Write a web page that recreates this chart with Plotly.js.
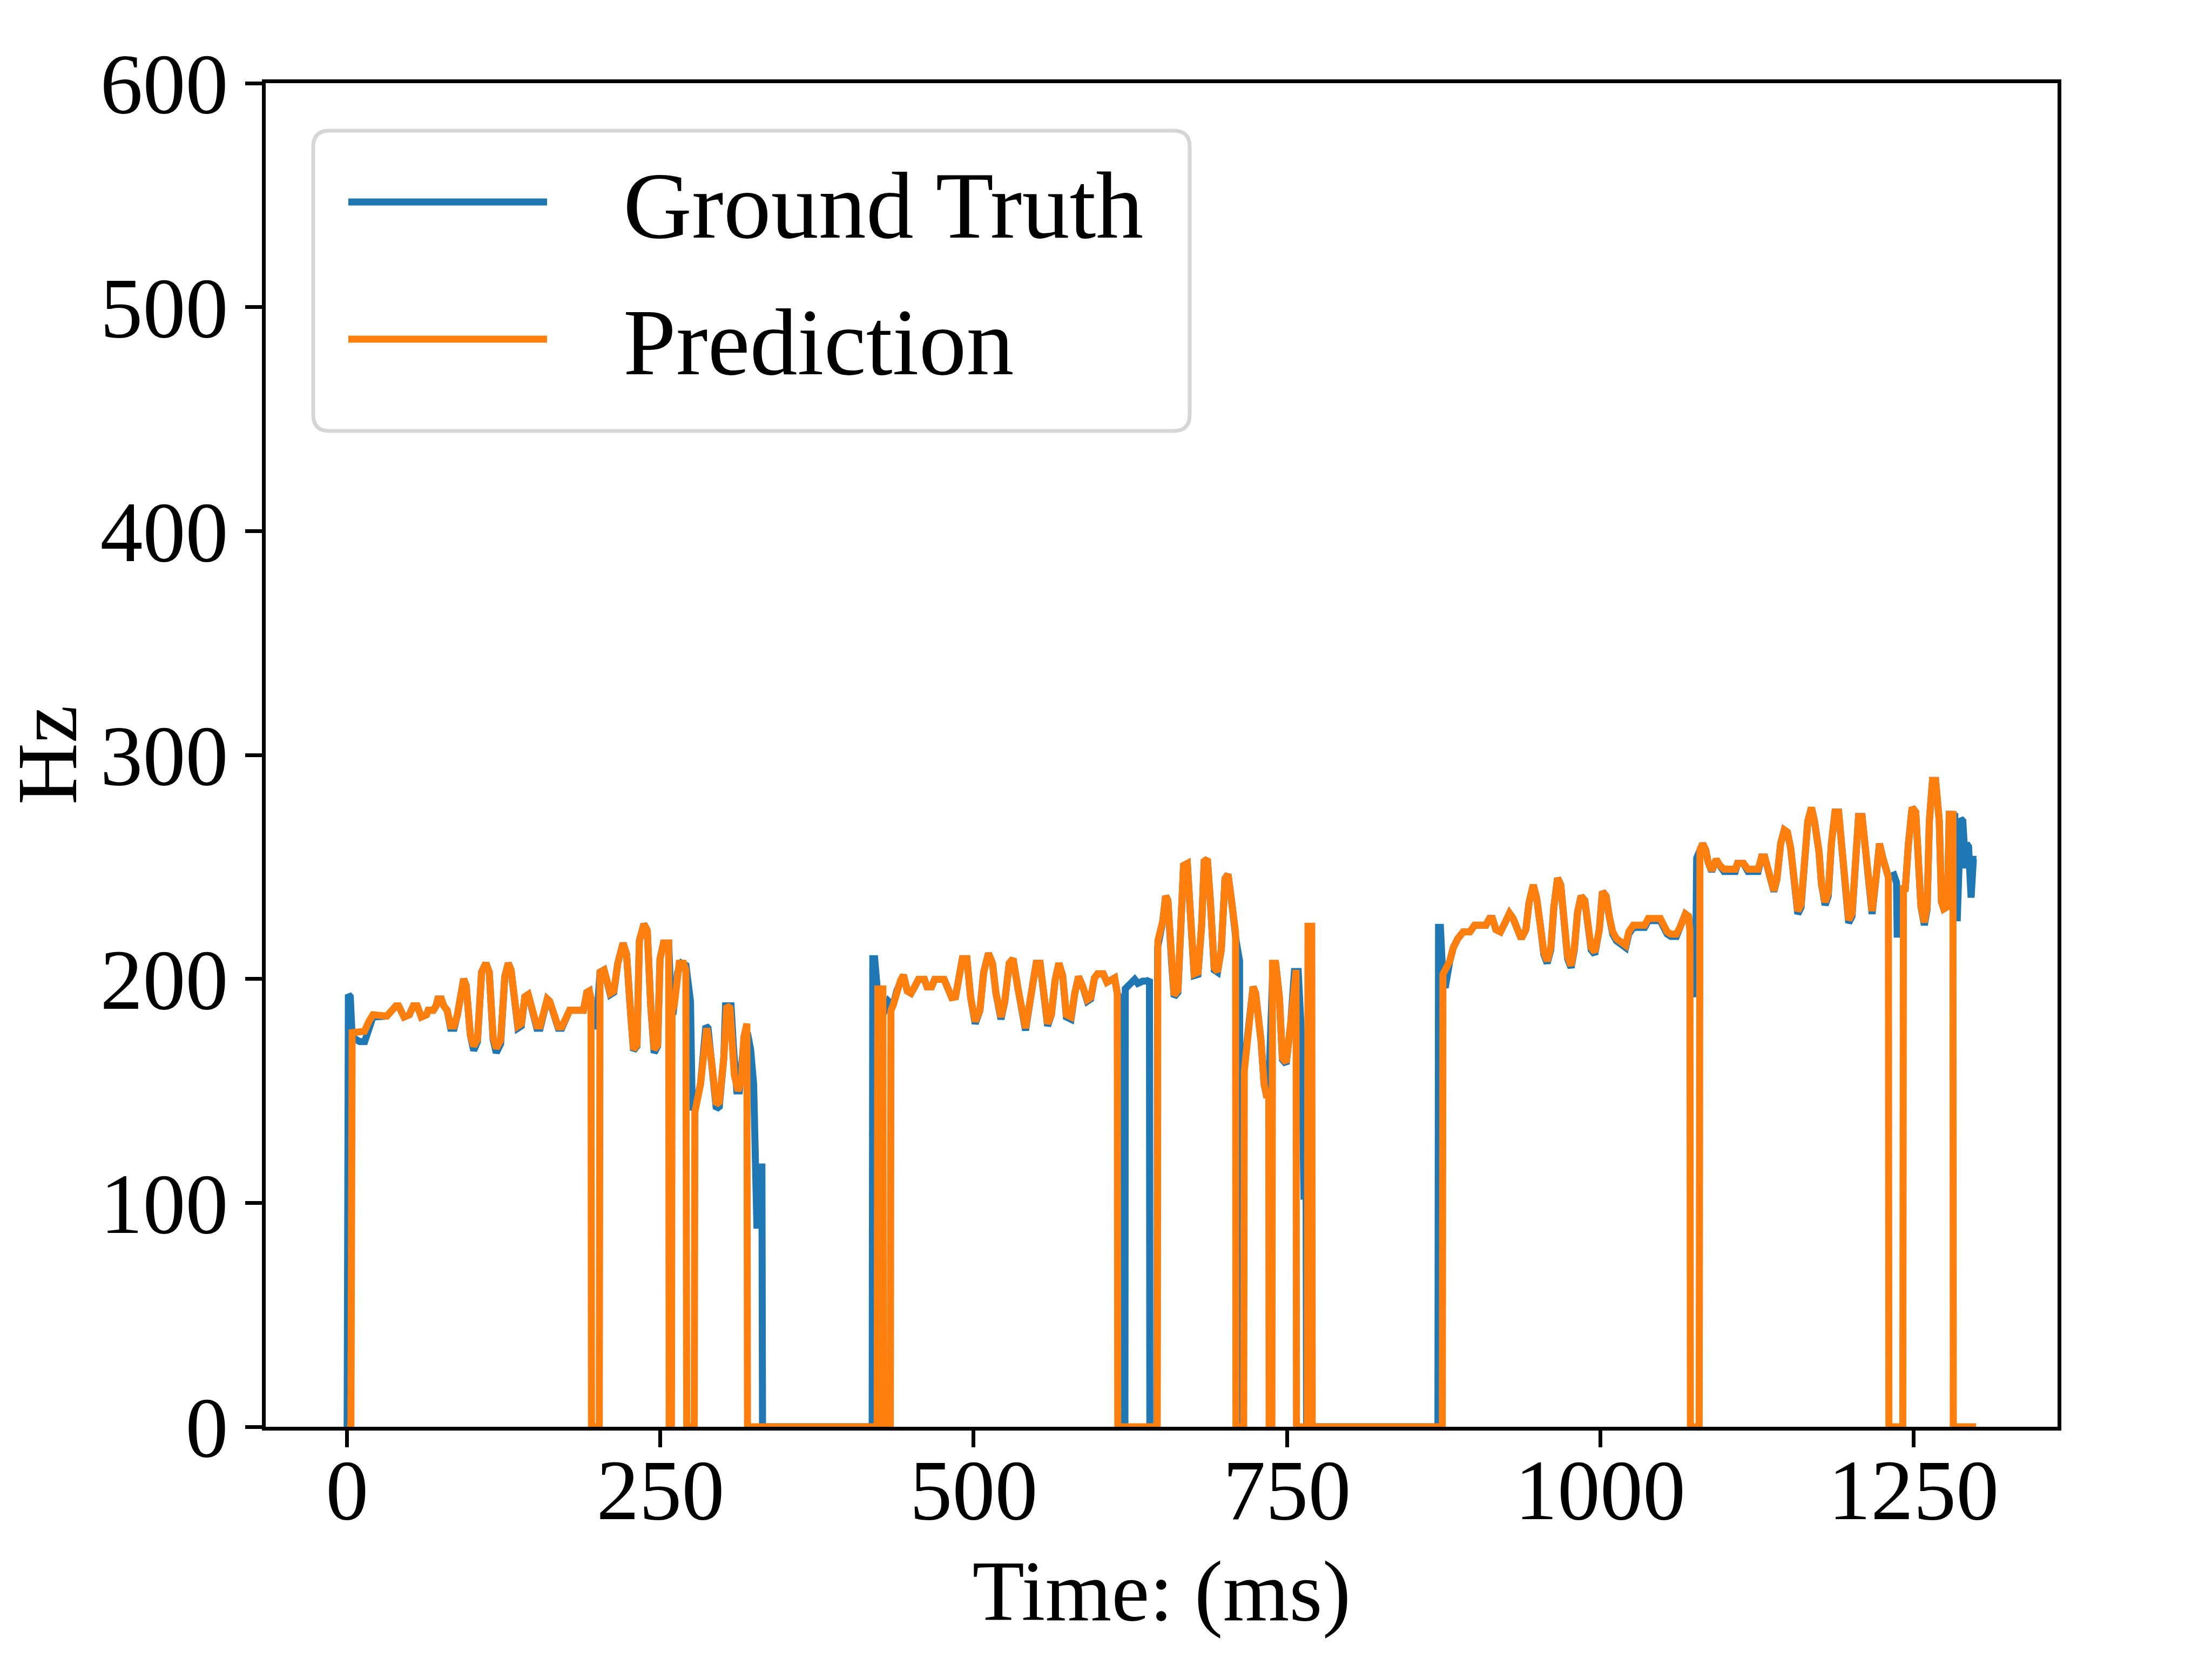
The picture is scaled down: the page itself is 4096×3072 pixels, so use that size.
<!DOCTYPE html>
<html>
<head>
<meta charset="utf-8">
<script src="https://cdn.plot.ly/plotly-3.0.1.min.js"></script>
<style>html,body{margin:0;padding:0;background:#fff;}</style>
</head>
<body>
<div id="chart" style="width:4096px;height:3072px;"></div>
<script>
// [time (ms), pitch (Hz)] vertices
const groundTruth = [
[0,0],[1,193],[2.5,192],[4,174],[10,172],[14,172],[17,177],[20.6,183],[31.7,183.4],[35.8,186],[39,188],[41,188],[45.4,183],[49.6,184],[52.9,188],[55.9,188],[59.2,183],[63.3,184],[64.7,186],[68.8,186],[71,188],[72.4,191],[75.2,191],[77,188],[79.8,186],[82.6,178],[85.4,178],[88,184],[90.8,195.5],[93,200],[95,197],[98.3,175],[101,168],[104,172],[107.3,203],[110.7,207],[113.4,203],[116.5,173],[119,167],[122.5,171],[125.8,201],[128.6,207],[130.8,204],[134,186],[136.3,178],[139,179],[141.8,192],[144.5,193],[147.9,186],[151.4,178],[154,178],[157.8,188],[159.7,191],[161.6,190],[165.2,183],[168.5,178],[171.3,178],[174.3,182.4],[177.6,186],[188.6,186],[191.3,194],[193.2,194.6],[195,186],[197,178],[199,180],[201.8,203],[205,204],[207.3,199.4],[210,193],[212.8,194],[216,207],[220.2,216],[223,211],[225.8,188],[228.5,168],[231.3,170],[233.2,217],[236.8,224.5],[239.5,221.6],[242.3,188],[245,167],[247.8,170],[249.7,209],[252.5,216],[256.6,216],[258.3,191.7],[260,184],[263.8,203],[267,207],[270.4,206],[274,190],[275.4,141.5],[278,143],[282,153],[286.3,179],[288,178],[291,160.8],[294.6,142],[297,143],[300.6,164.7],[302,188],[306.4,188],[308.4,168.5],[311,150],[313,150],[316.6,172],[319.4,176],[322,168.5],[324.4,153],[325.7,120],[326.5,116],[327,90],[328.5,90],[329,116],[331,116],[331.5,0],
[419,0],[419.5,209],[421,209],[423,196],[426,187],[429,186],[432,190],[435.6,188],[438.6,194.6],[441.7,199.4],[444,201.7],[447,194.6],[450,193.6],[453,196.5],[456,199.8],[460.7,199.8],[462.8,196.5],[466.4,196.5],[468.9,199.8],[476.4,199.8],[479.4,195.6],[482.5,191.7],[485.5,192],[488.5,201],[491,209],[494.6,209],[497.6,191.7],[501.2,180],[505,186],[508,203],[511.8,211.4],[515,207],[517.8,193.6],[521.8,182],[524.8,189.8],[528.4,207],[531.4,209],[535.4,195.6],[538.4,188],[541.4,177],[546,193.6],[549.9,207],[553,207],[555.9,195.6],[559,179],[562,184],[565,199.4],[568,207],[571,201.5],[574,183],[577.7,182],[580.7,193.6],[583.7,201],[586.8,197],[590.7,190],[593.4,191],[596.4,200.4],[598.9,202.3],[603.4,202.3],[606.4,198.5],[610,199.4],[612.5,200.4],[614.6,193.6],[617,191],[618.3,0],[620.7,0],[621,195.6],[624.5,197.5],[628.5,199.8],[631,198],[635,199],[638.8,199],[640.3,199.8],[640.6,0],
[646.3,0],[646.8,214],[651,226],[653.2,237],[655,235],[658,207],[660,192],[663,194],[665,215],[667.5,250.6],[670.5,251.5],[673,224.5],[676,201.5],[679,202],[682,224.5],[684,252.5],[686.5,253.5],[689,234],[692,204],[694.6,203],[697.6,213],[700.6,244.8],[703,246.7],[706,234],[708,221.6],[709,220.7],[709.5,216.8],[712.2,208],[712.6,0],[714.3,0],[714.6,165.6],[716.5,164],[720.7,186],[723,196.5],[725,193.6],[729.4,172],[731.8,153],[734,147],[736,160],[738.5,200],[741,207],[744,191.7],[746.4,164],[749.4,162],[753,180],[756,203.3],[759,203.3],[761.5,176],[762.8,131.8],[763.6,103],[765.3,103],[765.7,0],
[870.5,0],[871,223],[872.5,223],[874.5,200],[876.3,196],[878,203],[880,208],[882.8,214],[886.4,218],[890.7,221],[896,221],[899.8,224],[908.8,224],[911.7,227],[914,227],[916.8,222],[920.4,221],[924,225],[927.6,229.3],[930.5,227],[933.4,223],[937,218],[940.7,222],[943.2,234],[946.6,242],[949.3,236],[952.2,224],[955,211],[957.7,207],[960.6,213],[963,232],[966,245],[968.5,242],[971,226],[974,209],[976.8,205],[979.4,213],[982,230],[984.8,237],[987.7,235],[990.2,224],[992.8,213],[995.7,211],[999.3,222],[1001.8,239],[1004.7,237],[1007.2,228],[1010,220],[1013,217],[1017.4,215],[1020.3,214],[1022.8,220],[1026.4,223],[1035.5,223],[1038.4,226],[1048,226],[1050.7,222],[1053.5,220],[1056.4,219],[1060.8,219],[1063.7,223],[1068,229],[1070.5,228],[1072,220],[1075.2,194],[1076,192],[1077,254],[1079.6,258],[1081.8,260.4],[1084.3,257.5],[1086,252.4],[1089,248],[1092.6,253.4],[1095,251],[1098.8,248],[1107.8,248],[1109.6,251.6],[1114.3,251.6],[1118,248],[1126,248],[1128.8,254.4],[1131.3,254.4],[1133.9,248.4],[1136,243.4],[1138.6,239],[1141,244.4],[1144,260.4],[1146.9,266.5],[1149.4,265.5],[1152,258.4],[1154.8,242.4],[1157.7,229],[1160.3,232],[1162.8,250.4],[1165.7,270.5],[1168.6,276.5],[1171,270.5],[1174.7,256.4],[1176.6,242.4],[1179.5,233],[1182,237],[1184.5,260.4],[1187.4,274.5],[1190.3,274.5],[1192.8,260.4],[1195.4,238.4],[1198.3,225],[1201,228],[1203.7,250.4],[1206.2,272.5],[1209,272.5],[1212,258.4],[1214.5,240.4],[1217,229],[1220,244.4],[1222.9,260.4],[1225.4,254.4],[1228,248.4],[1230,245.4],[1234.4,246.4],[1236.5,243],[1237,220],[1239,220],[1240,238],[1243.5,240.4],[1246,260.4],[1248.9,276.5],[1251.8,274.5],[1254.3,250.4],[1256,232.3],[1258.7,224],[1260.9,231],[1262.7,270.5],[1265.2,288.6],[1267.7,288.6],[1270.6,270.5],[1272.4,234.3],[1274.2,231.3],[1277.1,232.3],[1278.6,273.5],[1281.5,273.5],[1283,273],[1284,227.3],[1285,227.3],[1287.6,271.5],[1289.4,270.5],[1291.6,249.4],[1292.3,260.4],[1294,259],[1296,236.3],[1297.8,253.4],[1300.3,253.4]
];

const prediction = [
[0,0],[3,0],[4,176],[13.8,176.6],[17.3,181],[20.6,184],[31.7,183.4],[35.8,186],[39,188],[41,188],[45.4,183],[49.6,184],[52.9,188],[55.9,188],[59.2,183],[63.3,184],[64.7,186],[68.8,186],[71,188],[72.4,191],[75.2,191],[77,188],[79.8,186],[82.6,179],[85.4,179],[88,184],[90.8,195.5],[93,200],[95,197],[98.3,175],[101,170],[104,173],[107.3,203],[110.7,207],[113.4,203],[116.5,174],[119,169],[122.5,172.6],[125.8,201],[128.6,207],[130.8,204],[134,186],[136.3,179],[139,180],[141.8,192],[144.5,193],[147.9,186],[151.4,179],[154,179],[157.8,188],[159.7,191],[161.6,190],[165.2,183],[168.5,178.6],[171.3,178.6],[174.3,182.4],[177.6,186],[188.6,186],[191.3,194],[193.2,194.6],[194.6,191.7],[195,0],[201.2,0],[201.8,203],[205,204],[207.3,199.4],[210,193.6],[212.8,194.6],[216,207],[220.2,216],[223,211],[225.8,188],[228.5,168.5],[231.3,170.5],[233.2,217],[236.8,224.5],[239.5,221.6],[242.3,188],[245,168.5],[247.8,170.5],[249.7,209],[252.5,216],[256.6,216],[257,0],[258.8,0],[259.3,186],[261,188],[265,207],[268.5,207],[270.3,204],[271,0],[277,0],[277.5,140.5],[282,153],[285.2,174],[287,178],[290.5,164.7],[294.6,144],[297,145],[300.6,164.7],[303,188],[305.5,187],[309,157],[312,150],[314.7,155],[316.6,174],[319,180],[319.5,0],
[423,0],[423.5,195.5],[427.5,195.5],[428,0],[433.5,0],[434,186],[435.6,188],[438.6,194.6],[441.7,199.4],[444,201.7],[447,194.6],[450,193.6],[453,196.5],[456,199.8],[460.7,199.8],[462.8,196.5],[466.4,196.5],[468.9,199.8],[476.4,199.8],[479.4,195.6],[482.5,191.7],[485.5,192],[488.5,201],[491,209],[494.6,209],[497.6,191.7],[501.2,181],[505,186],[508,203],[511.8,211.4],[515,207],[517.8,193.6],[521.8,183],[524.8,189.8],[528.4,207],[531.4,209],[535.4,195.6],[538.4,188],[541.4,178],[546,193.6],[549.9,207],[553,207],[555.9,195.6],[559,180],[562,184],[565,199.4],[568,207],[571,201.5],[574,184],[577.7,183],[580.7,193.6],[583.7,201],[586.8,197],[590.7,190.7],[593.4,191.7],[596.4,200.4],[598.9,202.3],[603.4,202.3],[606.4,198.5],[610,199.4],[612.5,200.4],[614.6,193.6],[615,0],
[646.5,0],[647,217],[651,226],[653.2,237],[655,235],[658,207],[660,192.7],[663,195],[665,215],[667.5,250.6],[670.5,251.5],[673,224.5],[676,202.3],[679,203],[682,224.5],[684,252.5],[686.5,253.5],[689,234],[692,205],[694.6,203.3],[697.6,213],[700.6,244.8],[703,246.7],[706,234],[708,221.6],[709,220.7],[709.3,0],[715.5,0],[716,158.9],[720.7,186],[723,196.5],[725,193.6],[729.4,172],[731.8,153],[734,147],[735.5,150],[735.8,0],[738,0],[738.5,207],[741,207],[744,191.7],[746.4,164.7],[749.4,162.7],[753,180],[756,203.3],[757.3,204],[757.6,0],[766.3,0],[766.8,223.5],[769.8,223.5],[770.2,0],
[874,0],[874.5,202],[876.3,204],[880,208],[882.8,214],[886.4,218],[890.7,221],[896,221],[899.8,224],[908.8,224],[911.7,227],[914,227],[916.8,222],[920.4,221],[924,225],[927.6,229.3],[930.5,227],[933.4,223],[937,218],[940.7,222],[943.2,234],[946.6,242],[949.3,236],[952.2,224],[955,212],[957.7,208],[960.6,214],[963,232],[966,245],[968.5,242],[971,226],[974,210],[976.8,206],[979.4,214],[982,230],[984.8,237],[987.7,235],[990.2,224],[992.8,214],[995.7,212],[999.3,222],[1001.8,239],[1004.7,237],[1007.2,228],[1010,221],[1013,218],[1017.4,216],[1020.3,215],[1022.8,221],[1026.4,224],[1035.5,224],[1038.4,227],[1048,227],[1050.7,223],[1053.5,221],[1056.4,220],[1060.8,220],[1063.7,223],[1068,229],[1070.5,228],[1071.6,222],[1072,0],[1079,0],[1079.6,257.5],[1081.8,260.4],[1084.3,257.5],[1086,252.4],[1089,248.4],[1092.6,253.4],[1095,251],[1098.8,249],[1107.8,249],[1109.6,251.6],[1114.3,251.6],[1118,249],[1126,249],[1128.8,254.4],[1131.3,254.4],[1133.9,248.4],[1136,243.4],[1138.6,239.4],[1141,244.4],[1144,260.4],[1146.9,266.5],[1149.4,265.5],[1152,258.4],[1154.8,242.4],[1157.7,230.3],[1160.3,233.3],[1162.8,250.4],[1165.7,270.5],[1168.6,276.5],[1171,270.5],[1174.7,256.4],[1176.6,242.4],[1179.5,234.3],[1182,238.4],[1184.5,260.4],[1187.4,274.5],[1190.3,274.5],[1192.8,260.4],[1195.4,238.4],[1198.3,226.3],[1201,229.3],[1203.7,250.4],[1206.2,272.5],[1209,272.5],[1212,258.4],[1214.5,240.4],[1217,230.3],[1220,244.4],[1222.9,260.4],[1225.4,254.4],[1228,248.4],[1230,245.4],[1230.4,0],[1241.5,0],[1242,240.4],[1243.5,240.4],[1246,260.4],[1248.9,276.5],[1251.8,274.5],[1254.3,250.4],[1256,232.3],[1258.7,225.3],[1260.9,232.3],[1262.7,270.5],[1265.2,288.6],[1267.7,288.6],[1270.6,270.5],[1272.4,234.3],[1274.2,231.3],[1277.1,232.3],[1278.6,273.5],[1281.5,273.5],[1281.8,0],[1300,0]
];

const seriesNames = ['Ground Truth', 'Prediction'];
const seriesColors = ['#1f77b4', '#ff7f0e'];
const xTickValues = [0, 250, 500, 750, 1000, 1250];
const yTickValues = [0, 100, 200, 300, 400, 500, 600];

const FONT = 'Liberation Serif, Times New Roman, serif';
const W = 4096, H = 3072;
const M = {l: 492, r: 286, t: 154, b: 430};
const plotW = W - M.l - M.r, plotH = H - M.t - M.b;
// pixel -> paper helpers (layout only)
const px = v => (v - M.l) / plotW;
const py = v => (H - M.b - v) / plotH;

const traces = [groundTruth, prediction].map((pts, i) => ({
  type: 'scatter',
  mode: 'lines',
  name: seriesNames[i],
  x: pts.map(p => p[0]),
  y: pts.map(p => p[1]),
  line: {color: seriesColors[i], width: 13},
  hoverinfo: 'skip',
  showlegend: false
}));

// Legend box (matplotlib-style, rounded) drawn as shapes + text
const bx0 = px(580), bx1 = px(2203), byT = py(242), byB = py(798);
const rx = 30 / plotW, ry = 30 / plotH;
const boxPath = `M${bx0+rx},${byT} L${bx1-rx},${byT} Q${bx1},${byT} ${bx1},${byT-ry} ` +
  `L${bx1},${byB+ry} Q${bx1},${byB} ${bx1-rx},${byB} L${bx0+rx},${byB} ` +
  `Q${bx0},${byB} ${bx0},${byB+ry} L${bx0},${byT-ry} Q${bx0},${byT} ${bx0+rx},${byT} Z`;

const legendRowsY = [374, 628];
const shapes = [{
  type: 'path', xref: 'paper', yref: 'paper', path: boxPath,
  fillcolor: 'rgba(255,255,255,0.8)', line: {color: '#d6d6d6', width: 7}, layer: 'above'
}];
const annotations = [];
seriesNames.forEach((name, i) => {
  shapes.push({
    type: 'line', xref: 'paper', yref: 'paper',
    x0: px(645), x1: px(1013), y0: py(legendRowsY[i]), y1: py(legendRowsY[i]),
    line: {color: seriesColors[i], width: 13}, layer: 'above'
  });
  annotations.push({
    xref: 'paper', yref: 'paper', x: px(1152), y: py(legendRowsY[i] + 6),
    xanchor: 'left', yanchor: 'middle', showarrow: false, text: name,
    font: {family: FONT, size: 176, color: 'black'}
  });
});

const axisCommon = {
  showline: true, linecolor: 'black', linewidth: 7, mirror: true,
  ticks: 'outside', ticklen: 31, tickwidth: 7, tickcolor: 'black',
  showgrid: false, zeroline: false, automargin: false,
  tickfont: {family: FONT, size: 158, color: 'black'}
};

const layout = {
  width: W, height: H,
  margin: {l: M.l, r: M.r, t: M.t, b: M.b, pad: 0},
  paper_bgcolor: 'white', plot_bgcolor: 'white',
  font: {family: FONT, size: 158, color: 'black'},
  showlegend: false,
  xaxis: Object.assign({}, axisCommon, {
    range: [-65, 1365], tickvals: xTickValues, ticklabelstandoff: -57,
    title: {text: 'Time: (ms)', font: {family: FONT, size: 158, color: 'black'}, standoff: 46}
  }),
  yaxis: Object.assign({}, axisCommon, {
    range: [0, 600], tickvals: yTickValues,
    title: {text: 'Hz', font: {family: FONT, size: 158, color: 'black'}, standoff: 53}
  }),
  shapes: shapes,
  annotations: annotations
};

Plotly.newPlot('chart', traces, layout, {staticPlot: true, displayModeBar: false});
</script>
</body>
</html>
